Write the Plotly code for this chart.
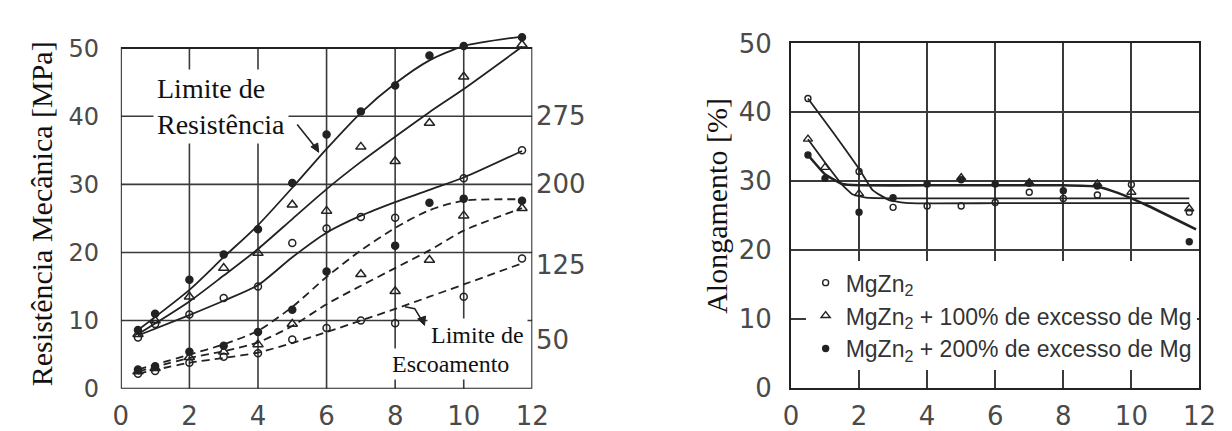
import plotly.graph_objects as go

W, H = 1232, 431

# ---------------- data ----------------
left_x = [0.5, 1, 2, 3, 4, 5, 6, 7, 8, 9, 10, 11.7]

# Limite de Resistência (solid)
res_mg200_x = left_x
res_mg200_y = [8.6, 11.0, 16.0, 19.7, 23.4, 30.2, 37.3, 40.7, 44.5, 48.9, 50.3, 51.6]
res_mg100_x = left_x
res_mg100_y = [8.0, 10.0, 13.5, 17.7, 19.9, 27.0, 26.1, 35.5, 33.4, 39.0, 45.8, 50.5]
res_mgzn2_x = [0.5, 1, 2, 3, 4, 5, 6, 7, 8, 10, 11.7]
res_mgzn2_y = [7.5, 9.5, 10.9, 13.3, 15.0, 21.4, 23.5, 25.2, 25.1, 30.9, 35.0]

# Limite de Escoamento (dashed)
esc_mg200_x = [0.5, 1, 2, 3, 4, 5, 6, 8, 9, 10, 11.7]
esc_mg200_y = [2.8, 3.3, 5.4, 6.3, 8.3, 11.6, 17.2, 21.0, 27.3, 27.9, 27.6]
esc_mg100_x = [0.5, 1, 2, 3, 4, 5, 7, 8, 9, 10, 11.7]
esc_mg100_y = [2.5, 3.0, 4.6, 5.4, 6.5, 9.5, 16.8, 14.3, 18.9, 25.4, 26.5]
esc_mgzn2_x = [0.5, 1, 2, 3, 4, 5, 6, 7, 8, 10, 11.7]
esc_mgzn2_y = [2.2, 2.6, 3.8, 4.7, 5.2, 7.2, 8.9, 10.0, 9.6, 13.5, 19.1]

# fitted curves
curve_x = [0.5, 2, 3, 4, 5, 6, 7, 8, 9, 10, 11.7]
res_mg200_fit = [8.6, 14.5, 19.3, 24.0, 29.5, 35.2, 40.5, 44.8, 48.2, 50.3, 51.7]
res_mg100_fit = [8.0, 12.8, 16.6, 20.5, 24.9, 29.3, 33.3, 37.0, 40.6, 44.0, 50.2]
res_mgzn2_fit = [7.8, 10.8, 12.9, 15.2, 19.3, 22.9, 25.4, 27.4, 29.2, 31.0, 34.9]
esc_mg200_fit = [2.8, 5.0, 6.5, 8.5, 12.0, 16.4, 20.3, 23.6, 26.2, 27.6, 27.8]
esc_mg100_fit = [2.5, 4.5, 5.5, 6.8, 9.2, 12.4, 15.1, 17.7, 20.3, 23.2, 26.5]
esc_mgzn2_fit = [2.2, 3.8, 4.5, 5.3, 6.7, 8.3, 10.0, 11.7, 13.5, 15.3, 18.4]

right_axis_vals = [40, 30, 18.2, 7.1]
right_axis_text = ["275", "200", "125", "50"]

# Alongamento
elong_mgzn2_x = [0.5, 2, 3, 4, 5, 6, 7, 8, 9, 10, 11.7]
elong_mgzn2_y = [42.0, 31.4, 26.2, 26.4, 26.4, 26.9, 28.4, 27.5, 28.0, 29.5, 25.5]
elong_mg100_x = [0.5, 1, 2, 5, 7, 9, 10, 11.7]
elong_mg100_y = [36.1, 32.0, 28.2, 30.5, 29.8, 29.6, 28.4, 26.0]
elong_mg200_x = [0.5, 1, 2, 3, 4, 5, 6, 7, 8, 9, 11.7]
elong_mg200_y = [33.8, 30.4, 25.5, 27.6, 29.6, 30.2, 29.6, 29.7, 28.6, 29.3, 21.2]

elong_mgzn2_fit_x = [0.5, 1.25, 2.0, 2.4, 2.9, 3.5, 6, 9, 11.7]
elong_mgzn2_fit_y = [42.0, 37.0, 31.8, 28.7, 27.2, 26.8, 26.8, 26.8, 26.8]
elong_mg100_fit_x = [0.5, 1.0, 1.5, 1.8, 2.2, 3, 6, 9, 11.7]
elong_mg100_fit_y = [36.1, 32.7, 29.5, 28.1, 27.6, 27.5, 27.5, 27.5, 27.5]
elong_mg200_fit_x = [0.5, 1.0, 1.5, 2, 4, 6, 8, 9, 9.6, 10.5, 11.9]
elong_mg200_fit_y = [33.8, 31.0, 29.6, 29.4, 29.4, 29.4, 29.4, 29.2, 28.3, 26.4, 23.0]

legend_names = ["MgZn<sub>2</sub>",
                "MgZn<sub>2</sub> + 100% de excesso de Mg",
                "MgZn<sub>2</sub> + 200% de excesso de Mg"]

x_ticks = [0, 2, 4, 6, 8, 10, 12]
y_ticks = [0, 10, 20, 30, 40, 50]

# ---------------- styling ----------------
INK = "#222222"
GRID = "#3a3a3a"
TICKC = "#4a4a4a"
SERIF = "Liberation Serif, Times New Roman, serif"
SANS = "DejaVu Sans, sans-serif"
LEG = "Liberation Sans, Arial, sans-serif"


def px(x):
    return x / W


def py(y):
    return 1 - y / H


sym = {"mgzn2": "circle-open", "mg100": "triangle-up-open", "mg200": "circle"}
msize = {"mgzn2": 7, "mg100": 9, "mg200": 7}

fig = go.Figure()

SPL = dict(shape="spline", smoothing=0.7)
SPL_R = dict(shape="spline", smoothing=0.35)

# left panel curves
for fit, dash in [(res_mg200_fit, "solid"), (res_mg100_fit, "solid"), (res_mgzn2_fit, "solid"),
                  (esc_mg200_fit, "8px,5px"), (esc_mg100_fit, "8px,5px"), (esc_mgzn2_fit, "8px,5px")]:
    fig.add_trace(go.Scatter(x=curve_x, y=fit, mode="lines", xaxis="x", yaxis="y",
                             line=dict(color=INK, width=1.8, dash=dash, **SPL),
                             showlegend=False, hoverinfo="skip"))

for xs, ys, k in [(res_mg200_x, res_mg200_y, "mg200"), (res_mg100_x, res_mg100_y, "mg100"),
                  (res_mgzn2_x, res_mgzn2_y, "mgzn2"), (esc_mg200_x, esc_mg200_y, "mg200"),
                  (esc_mg100_x, esc_mg100_y, "mg100"), (esc_mgzn2_x, esc_mgzn2_y, "mgzn2")]:
    fig.add_trace(go.Scatter(x=xs, y=ys, mode="markers", xaxis="x", yaxis="y",
                             marker=dict(symbol=sym[k], size=msize[k], color=INK,
                                         line=dict(color=INK, width=1.5)),
                             cliponaxis=False, showlegend=False))

# right panel curves
for fx, fy, w in [(elong_mgzn2_fit_x, elong_mgzn2_fit_y, 1.8),
                  (elong_mg100_fit_x, elong_mg100_fit_y, 1.8),
                  (elong_mg200_fit_x, elong_mg200_fit_y, 2.6)]:
    fig.add_trace(go.Scatter(x=fx, y=fy, mode="lines", xaxis="x2", yaxis="y2",
                             line=dict(color=INK, width=w, **SPL_R),
                             showlegend=False, hoverinfo="skip"))

for xs, ys, k, name in [(elong_mgzn2_x, elong_mgzn2_y, "mgzn2", legend_names[0]),
                        (elong_mg100_x, elong_mg100_y, "mg100", legend_names[1]),
                        (elong_mg200_x, elong_mg200_y, "mg200", legend_names[2])]:
    fig.add_trace(go.Scatter(x=xs, y=ys, mode="markers", xaxis="x2", yaxis="y2", name=name,
                             marker=dict(symbol=sym[k], size=msize[k] - 1, color=INK,
                                         line=dict(color=INK, width=1.4)),
                             cliponaxis=False, showlegend=True))

# ---------------- frame & grid of left panel ----------------
shapes = []
for v in x_ticks[1:-1]:
    shapes.append(dict(type="line", xref="x", yref="y", x0=v, x1=v, y0=y_ticks[0], y1=y_ticks[-1],
                       line=dict(color=GRID, width=1.6), layer="below"))
for v in y_ticks[1:-1]:
    shapes.append(dict(type="line", xref="x", yref="y", x0=x_ticks[0], x1=x_ticks[-1], y0=v, y1=v,
                       line=dict(color=GRID, width=1.6), layer="below"))
shapes.append(dict(type="rect", xref="x", yref="y", x0=x_ticks[0], x1=x_ticks[-1],
                   y0=y_ticks[0], y1=y_ticks[-1], line=dict(color=INK, width=2), layer="below"))


def pp(pts):
    return "M " + " L ".join(f"{px(a):.5f},{py(b):.5f}" for a, b in pts)


# leader arrows (decorations, in page pixels)
shapes.append(dict(type="path", xref="paper", yref="paper", path=pp([(287, 109), (306, 134)]),
                   line=dict(color=INK, width=1.6), layer="above"))
shapes.append(dict(type="path", xref="paper", yref="paper",
                   path=pp([(301, 133), (309, 139), (308, 129)]) + " Z",
                   fillcolor=INK, line=dict(color=INK, width=1), layer="above"))
shapes.append(dict(type="path", xref="paper", yref="paper",
                   path=pp([(397, 305), (407, 307), (415, 321)]),
                   line=dict(color=INK, width=1.6), layer="above"))
shapes.append(dict(type="path", xref="paper", yref="paper",
                   path=pp([(410, 318), (417, 325), (418, 315)]) + " Z",
                   fillcolor=INK, line=dict(color=INK, width=1), layer="above"))

annotations = []
# y titles
annotations.append(dict(text="Resistência Mecânica [MPa]", xref="paper", yref="paper",
                        x=px(26), y=py(205), textangle=-90, showarrow=False,
                        font=dict(family=SERIF, size=30, color="#111"),
                        xanchor="center", yanchor="middle"))
annotations.append(dict(text="Alongamento [%]", xref="paper", yref="paper",
                        x=px(715), y=py(196), textangle=-90, showarrow=False,
                        font=dict(family=SERIF, size=30, color="#111"),
                        xanchor="center", yanchor="middle"))
# right-side labels of left panel
for v, t in zip(right_axis_vals, right_axis_text):
    annotations.append(dict(text=t, xref="x", yref="y", x=12, y=v, xanchor="left", yanchor="middle",
                            xshift=2, showarrow=False, font=dict(family=SANS, size=26, color=TICKC)))
# text labels
annotations.append(dict(text="Limite de<br>Resistência", xref="paper", yref="paper",
                        x=px(140), y=py(90), xanchor="left", yanchor="middle", align="left",
                        showarrow=False, bgcolor="white", borderpad=3,
                        font=dict(family=SERIF, size=28, color="#111")))
annotations.append(dict(text="Limite de", xref="paper", yref="paper",
                        x=px(471), y=py(335), xanchor="center", yanchor="middle",
                        showarrow=False, bgcolor="white", borderpad=3,
                        font=dict(family=SERIF, size=24, color="#111")))
annotations.append(dict(text="Escoamento", xref="paper", yref="paper",
                        x=px(443), y=py(366), xanchor="center", yanchor="middle",
                        showarrow=False, bgcolor="white", borderpad=2,
                        font=dict(family=SERIF, size=24, color="#111")))

fig.update_layout(
    width=W, height=H,
    margin=dict(l=0, r=0, t=0, b=0),
    paper_bgcolor="white", plot_bgcolor="white",
    showlegend=True,
    shapes=shapes,
    annotations=annotations,
    xaxis=dict(domain=[px(107), px(527)], range=[0, 12], tickvals=x_ticks,
               showgrid=False, zeroline=False, showline=False,
               ticks="outside", ticklen=4, tickcolor="rgba(0,0,0,0)",
               tickfont=dict(family=SANS, size=26, color=TICKC)),
    yaxis=dict(domain=[py(393), py(393 - 53 * 7.32)], range=[0, 53], tickvals=y_ticks,
               showgrid=False, zeroline=False, showline=False,
               ticks="outside", ticklen=16, tickcolor="rgba(0,0,0,0)",
               tickfont=dict(family=SANS, size=24, color=TICKC)),
    xaxis2=dict(domain=[px(791), px(1208)], range=[0, 12], tickvals=x_ticks, anchor="y2",
                showgrid=True, gridcolor=GRID, gridwidth=1.6, zeroline=False,
                showline=True, mirror=True, linecolor=INK, linewidth=2,
                ticks="outside", ticklen=4, tickcolor="rgba(0,0,0,0)",
                tickfont=dict(family=SANS, size=26, color=TICKC)),
    yaxis2=dict(domain=[py(392), py(22)], range=[0, 50], tickvals=y_ticks, anchor="x2",
                showgrid=True, gridcolor=GRID, gridwidth=1.6, zeroline=False,
                showline=True, mirror=True, linecolor=INK, linewidth=2,
                ticks="outside", ticklen=12, tickcolor="rgba(0,0,0,0)",
                tickfont=dict(family=SANS, size=26, color=TICKC)),
    legend=dict(x=px(806), y=py(256), xanchor="left", yanchor="top",
                bgcolor="white", borderwidth=0, itemwidth=30, tracegroupgap=0,
                font=dict(family=LEG, size=23, color="#333")),
)

fig.write_html("out.html")
